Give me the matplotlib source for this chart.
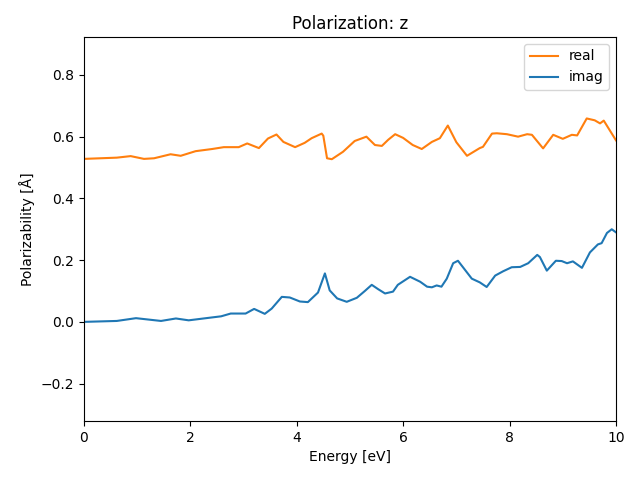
import numpy as np
import matplotlib
matplotlib.use("Agg")
import matplotlib.pyplot as plt

# energy grid points (eV) and polarizability values
energy_real = [0.0, 0.62, 0.88, 1.13, 1.32, 1.63, 1.82, 2.1, 2.41, 2.63, 2.91, 3.07,
               3.29, 3.46, 3.62, 3.75, 3.97, 4.15, 4.28, 4.47, 4.5, 4.57, 4.66, 4.87,
               5.09, 5.31, 5.47, 5.6, 5.72, 5.85, 6.0, 6.18, 6.35, 6.54, 6.69, 6.84,
               7.0, 7.2, 7.44, 7.5, 7.67, 7.76, 7.95, 8.16, 8.33, 8.42, 8.63, 8.82,
               9.0, 9.17, 9.27, 9.45, 9.6, 9.7, 9.77, 10.0]
real = [0.528, 0.532, 0.537, 0.528, 0.53, 0.543, 0.538, 0.553, 0.56, 0.566, 0.566, 0.578,
        0.563, 0.594, 0.607, 0.583, 0.566, 0.58, 0.595, 0.61, 0.603, 0.53, 0.527, 0.551,
        0.586, 0.6, 0.573, 0.57, 0.59, 0.608, 0.596, 0.573, 0.56, 0.583, 0.595, 0.636,
        0.582, 0.538, 0.563, 0.567, 0.61, 0.611, 0.608, 0.6, 0.608, 0.606, 0.562, 0.606,
        0.593, 0.606, 0.604, 0.659, 0.653, 0.643, 0.652, 0.588]

energy_imag = [0.0, 0.62, 0.98, 1.45, 1.73, 1.97, 2.39, 2.58, 2.76, 3.04, 3.2, 3.4,
               3.53, 3.72, 3.87, 4.06, 4.21, 4.4, 4.53, 4.62, 4.76, 4.94, 5.13, 5.28,
               5.41, 5.53, 5.66, 5.81, 5.9, 6.13, 6.32, 6.45, 6.54, 6.63, 6.72, 6.82,
               6.94, 7.03, 7.12, 7.29, 7.44, 7.57, 7.73, 7.88, 8.04, 8.2, 8.35, 8.52,
               8.57, 8.7, 8.87, 8.98, 9.08, 9.19, 9.36, 9.51, 9.66, 9.73, 9.83, 9.92, 10.0]
imag = [0.0, 0.003, 0.012, 0.003, 0.011, 0.005, 0.014, 0.018, 0.027, 0.027, 0.042, 0.026,
        0.043, 0.081, 0.079, 0.066, 0.064, 0.095, 0.157, 0.102, 0.076, 0.065, 0.078, 0.1,
        0.12, 0.106, 0.092, 0.098, 0.12, 0.146, 0.13, 0.114, 0.112, 0.118, 0.114, 0.14,
        0.19, 0.198, 0.178, 0.14, 0.128, 0.113, 0.15, 0.164, 0.177, 0.178, 0.19, 0.217,
        0.21, 0.166, 0.198, 0.197, 0.19, 0.196, 0.175, 0.225, 0.251, 0.255, 0.288, 0.3, 0.29]

fig, ax = plt.subplots(figsize=(6.4, 4.8), dpi=100)
ax.plot(energy_real, real, color="C1", label="real")
ax.plot(energy_imag, imag, color="C0", label="imag")
ax.set_xlim(0, 10)
ax.set_ylim(-0.321, 0.923)
ax.set_xlabel("Energy [eV]")
ax.set_ylabel("Polarizability [Å]")
ax.set_title("Polarization: z")
ax.legend(loc="upper right")
fig.subplots_adjust(left=0.131, right=0.9625, top=0.923, bottom=0.123)
fig.savefig("out.png")
